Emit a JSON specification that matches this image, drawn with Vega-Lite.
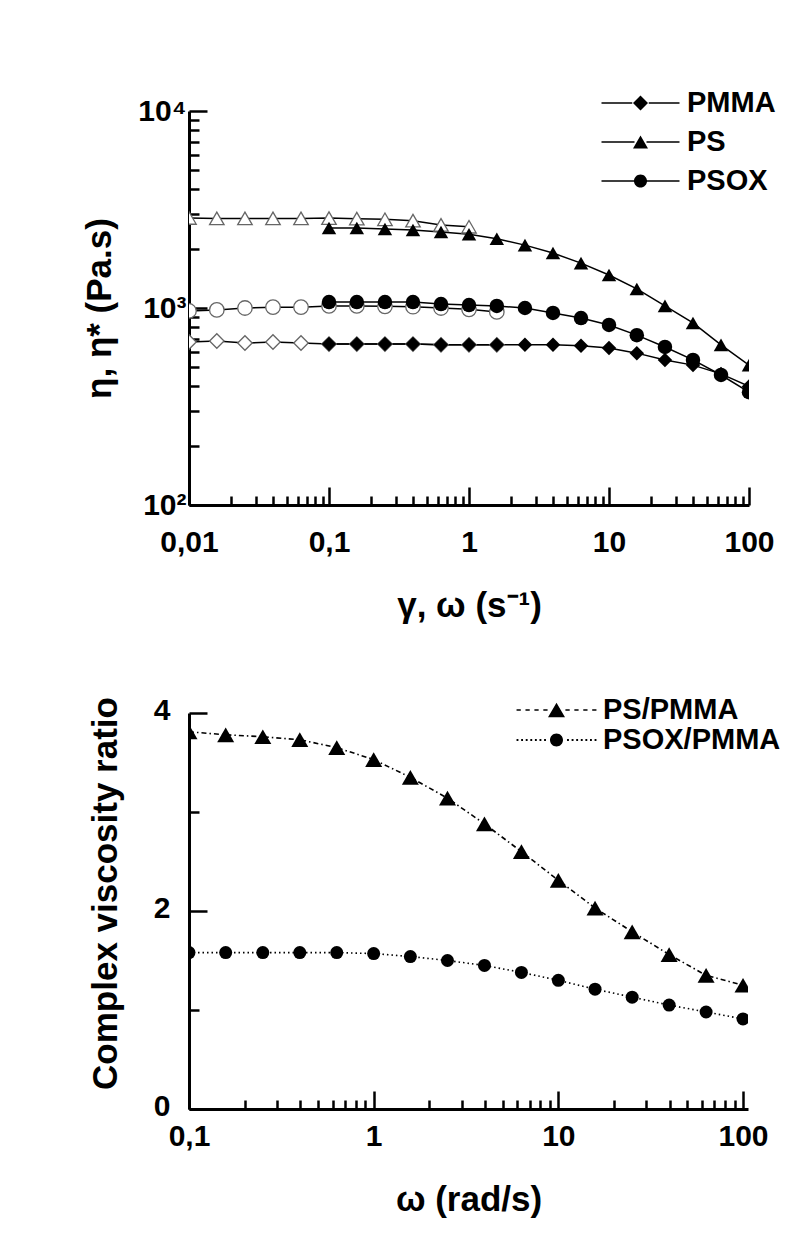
{
  "$schema": "https://vega.github.io/schema/vega-lite/v6.json",
  "background": "white",
  "padding": {"left": 82, "top": 88, "right": 10, "bottom": 10},
  "spacing": 72,
  "config": {
    "view": {"stroke": null},
    "font": "Liberation Sans",
    "axis": {
      "grid": false,
      "domainColor": "black",
      "domainWidth": 3,
      "tickColor": "black",
      "tickWidth": 2.5,
      "labelFont": "Liberation Sans",
      "labelFontWeight": "bold",
      "labelFontSize": 30,
      "labelColor": "black",
      "labelOverlap": false,
      "labelFlush": false,
      "titleFont": "Liberation Sans",
      "titleFontWeight": "bold",
      "titleFontSize": 35,
      "titleColor": "black"
    },
    "legend": {
      "title": null,
      "padding": 0,
      "symbolOpacity": 1,
      "symbolFillColor": "black",
      "symbolStrokeColor": "black",
      "symbolStrokeWidth": 1,
      "labelFont": "Liberation Sans",
      "labelFontWeight": "bold",
      "labelFontSize": 29,
      "labelColor": "black",
      "labelLimit": 300
    }
  },
  "datasets": {
    "rheology": [
      {"mat": "PMMA", "mode": "steady", "rate": 0.01, "eta": 672},
      {"mat": "PMMA", "mode": "steady", "rate": 0.0158, "eta": 680},
      {"mat": "PMMA", "mode": "steady", "rate": 0.0251, "eta": 664},
      {"mat": "PMMA", "mode": "steady", "rate": 0.0398, "eta": 672},
      {"mat": "PMMA", "mode": "steady", "rate": 0.0631, "eta": 664},
      {"mat": "PMMA", "mode": "steady", "rate": 0.1, "eta": 656},
      {"mat": "PMMA", "mode": "steady", "rate": 0.158, "eta": 656},
      {"mat": "PMMA", "mode": "steady", "rate": 0.251, "eta": 656},
      {"mat": "PMMA", "mode": "steady", "rate": 0.398, "eta": 656},
      {"mat": "PMMA", "mode": "steady", "rate": 0.631, "eta": 650},
      {"mat": "PMMA", "mode": "steady", "rate": 1, "eta": 650},
      {"mat": "PMMA", "mode": "steady", "rate": 1.58, "eta": 650},
      {"mat": "PS", "mode": "steady", "rate": 0.01, "eta": 2864},
      {"mat": "PS", "mode": "steady", "rate": 0.0158, "eta": 2850},
      {"mat": "PS", "mode": "steady", "rate": 0.0251, "eta": 2850},
      {"mat": "PS", "mode": "steady", "rate": 0.0398, "eta": 2850},
      {"mat": "PS", "mode": "steady", "rate": 0.0631, "eta": 2850},
      {"mat": "PS", "mode": "steady", "rate": 0.1, "eta": 2860},
      {"mat": "PS", "mode": "steady", "rate": 0.158, "eta": 2840},
      {"mat": "PS", "mode": "steady", "rate": 0.251, "eta": 2820},
      {"mat": "PS", "mode": "steady", "rate": 0.398, "eta": 2775},
      {"mat": "PS", "mode": "steady", "rate": 0.631, "eta": 2640},
      {"mat": "PS", "mode": "steady", "rate": 1, "eta": 2585},
      {"mat": "PSOX", "mode": "steady", "rate": 0.01, "eta": 966},
      {"mat": "PSOX", "mode": "steady", "rate": 0.0158, "eta": 978},
      {"mat": "PSOX", "mode": "steady", "rate": 0.0251, "eta": 1000},
      {"mat": "PSOX", "mode": "steady", "rate": 0.0398, "eta": 1010},
      {"mat": "PSOX", "mode": "steady", "rate": 0.0631, "eta": 1010},
      {"mat": "PSOX", "mode": "steady", "rate": 0.1, "eta": 1025},
      {"mat": "PSOX", "mode": "steady", "rate": 0.158, "eta": 1025},
      {"mat": "PSOX", "mode": "steady", "rate": 0.251, "eta": 1020},
      {"mat": "PSOX", "mode": "steady", "rate": 0.398, "eta": 1015},
      {"mat": "PSOX", "mode": "steady", "rate": 0.631, "eta": 1000},
      {"mat": "PSOX", "mode": "steady", "rate": 1, "eta": 985},
      {"mat": "PSOX", "mode": "steady", "rate": 1.58, "eta": 955},
      {"mat": "PMMA", "mode": "oscillatory", "rate": 0.1, "eta": 656},
      {"mat": "PMMA", "mode": "oscillatory", "rate": 0.158, "eta": 656},
      {"mat": "PMMA", "mode": "oscillatory", "rate": 0.251, "eta": 656},
      {"mat": "PMMA", "mode": "oscillatory", "rate": 0.398, "eta": 656},
      {"mat": "PMMA", "mode": "oscillatory", "rate": 0.631, "eta": 650},
      {"mat": "PMMA", "mode": "oscillatory", "rate": 1, "eta": 650},
      {"mat": "PMMA", "mode": "oscillatory", "rate": 1.58, "eta": 650},
      {"mat": "PMMA", "mode": "oscillatory", "rate": 2.51, "eta": 650},
      {"mat": "PMMA", "mode": "oscillatory", "rate": 3.98, "eta": 650},
      {"mat": "PMMA", "mode": "oscillatory", "rate": 6.31, "eta": 643},
      {"mat": "PMMA", "mode": "oscillatory", "rate": 10, "eta": 626},
      {"mat": "PMMA", "mode": "oscillatory", "rate": 15.8, "eta": 590},
      {"mat": "PMMA", "mode": "oscillatory", "rate": 25.1, "eta": 545},
      {"mat": "PMMA", "mode": "oscillatory", "rate": 39.8, "eta": 513},
      {"mat": "PMMA", "mode": "oscillatory", "rate": 63.1, "eta": 463},
      {"mat": "PMMA", "mode": "oscillatory", "rate": 100, "eta": 400},
      {"mat": "PS", "mode": "oscillatory", "rate": 0.1, "eta": 2547},
      {"mat": "PS", "mode": "oscillatory", "rate": 0.158, "eta": 2547},
      {"mat": "PS", "mode": "oscillatory", "rate": 0.251, "eta": 2520},
      {"mat": "PS", "mode": "oscillatory", "rate": 0.398, "eta": 2490},
      {"mat": "PS", "mode": "oscillatory", "rate": 0.631, "eta": 2430},
      {"mat": "PS", "mode": "oscillatory", "rate": 1, "eta": 2370},
      {"mat": "PS", "mode": "oscillatory", "rate": 1.58, "eta": 2245},
      {"mat": "PS", "mode": "oscillatory", "rate": 2.51, "eta": 2085},
      {"mat": "PS", "mode": "oscillatory", "rate": 3.98, "eta": 1900},
      {"mat": "PS", "mode": "oscillatory", "rate": 6.31, "eta": 1690},
      {"mat": "PS", "mode": "oscillatory", "rate": 10, "eta": 1470},
      {"mat": "PS", "mode": "oscillatory", "rate": 15.8, "eta": 1250},
      {"mat": "PS", "mode": "oscillatory", "rate": 25.1, "eta": 1025},
      {"mat": "PS", "mode": "oscillatory", "rate": 39.8, "eta": 840},
      {"mat": "PS", "mode": "oscillatory", "rate": 63.1, "eta": 650},
      {"mat": "PS", "mode": "oscillatory", "rate": 100, "eta": 513},
      {"mat": "PSOX", "mode": "oscillatory", "rate": 0.1, "eta": 1072},
      {"mat": "PSOX", "mode": "oscillatory", "rate": 0.158, "eta": 1072},
      {"mat": "PSOX", "mode": "oscillatory", "rate": 0.251, "eta": 1072},
      {"mat": "PSOX", "mode": "oscillatory", "rate": 0.398, "eta": 1072},
      {"mat": "PSOX", "mode": "oscillatory", "rate": 0.631, "eta": 1047},
      {"mat": "PSOX", "mode": "oscillatory", "rate": 1, "eta": 1035},
      {"mat": "PSOX", "mode": "oscillatory", "rate": 1.58, "eta": 1025},
      {"mat": "PSOX", "mode": "oscillatory", "rate": 2.51, "eta": 1000},
      {"mat": "PSOX", "mode": "oscillatory", "rate": 3.98, "eta": 944},
      {"mat": "PSOX", "mode": "oscillatory", "rate": 6.31, "eta": 889},
      {"mat": "PSOX", "mode": "oscillatory", "rate": 10, "eta": 820},
      {"mat": "PSOX", "mode": "oscillatory", "rate": 15.8, "eta": 728},
      {"mat": "PSOX", "mode": "oscillatory", "rate": 25.1, "eta": 634},
      {"mat": "PSOX", "mode": "oscillatory", "rate": 39.8, "eta": 545},
      {"mat": "PSOX", "mode": "oscillatory", "rate": 63.1, "eta": 457},
      {"mat": "PSOX", "mode": "oscillatory", "rate": 100, "eta": 374}
    ],
    "ratio": [
      {"pair": "PS/PMMA", "omega": 0.1, "ratio": 3.81},
      {"pair": "PS/PMMA", "omega": 0.158, "ratio": 3.78},
      {"pair": "PS/PMMA", "omega": 0.251, "ratio": 3.76},
      {"pair": "PS/PMMA", "omega": 0.398, "ratio": 3.73},
      {"pair": "PS/PMMA", "omega": 0.631, "ratio": 3.65},
      {"pair": "PS/PMMA", "omega": 1, "ratio": 3.53},
      {"pair": "PS/PMMA", "omega": 1.58, "ratio": 3.35},
      {"pair": "PS/PMMA", "omega": 2.51, "ratio": 3.14},
      {"pair": "PS/PMMA", "omega": 3.98, "ratio": 2.88},
      {"pair": "PS/PMMA", "omega": 6.31, "ratio": 2.6},
      {"pair": "PS/PMMA", "omega": 10, "ratio": 2.31},
      {"pair": "PS/PMMA", "omega": 15.8, "ratio": 2.03},
      {"pair": "PS/PMMA", "omega": 25.1, "ratio": 1.79},
      {"pair": "PS/PMMA", "omega": 39.8, "ratio": 1.56},
      {"pair": "PS/PMMA", "omega": 63.1, "ratio": 1.35},
      {"pair": "PS/PMMA", "omega": 100, "ratio": 1.25},
      {"pair": "PSOX/PMMA", "omega": 0.1, "ratio": 1.58},
      {"pair": "PSOX/PMMA", "omega": 0.158, "ratio": 1.58},
      {"pair": "PSOX/PMMA", "omega": 0.251, "ratio": 1.58},
      {"pair": "PSOX/PMMA", "omega": 0.398, "ratio": 1.58},
      {"pair": "PSOX/PMMA", "omega": 0.631, "ratio": 1.58},
      {"pair": "PSOX/PMMA", "omega": 1, "ratio": 1.57},
      {"pair": "PSOX/PMMA", "omega": 1.58, "ratio": 1.54},
      {"pair": "PSOX/PMMA", "omega": 2.51, "ratio": 1.5},
      {"pair": "PSOX/PMMA", "omega": 3.98, "ratio": 1.45},
      {"pair": "PSOX/PMMA", "omega": 6.31, "ratio": 1.38},
      {"pair": "PSOX/PMMA", "omega": 10, "ratio": 1.3},
      {"pair": "PSOX/PMMA", "omega": 15.8, "ratio": 1.21},
      {"pair": "PSOX/PMMA", "omega": 25.1, "ratio": 1.13},
      {"pair": "PSOX/PMMA", "omega": 39.8, "ratio": 1.05},
      {"pair": "PSOX/PMMA", "omega": 63.1, "ratio": 0.98},
      {"pair": "PSOX/PMMA", "omega": 100, "ratio": 0.91}
    ]
  },
  "vconcat": [
    {
      "width": 560,
      "height": 394,
      "data": {"name": "rheology"},
      "encoding": {
        "x": {
          "field": "rate",
          "type": "quantitative",
          "scale": {"type": "log", "domain": [0.01, 100], "nice": false},
          "axis": {
            "title": "γ, ω (s⁻¹)",
            "values": [0.01, 0.02, 0.03, 0.04, 0.05, 0.06, 0.07, 0.08, 0.09, 0.1, 0.2, 0.3, 0.4, 0.5, 0.6, 0.7, 0.8, 0.9, 1, 2, 3, 4, 5, 6, 7, 8, 9, 10, 20, 30, 40, 50, 60, 70, 80, 90, 100],
            "labelExpr": "datum.value == 0.01 ? '0,01' : datum.value == 0.1 ? '0,1' : indexof([1, 10, 100], datum.value) >= 0 ? datum.label : ''",
            "tickSize": {"condition": {"test": "indexof([0.01, 0.1, 1, 10, 100], datum.value) >= 0", "value": -18}, "value": -9},
            "labelPadding": 40,
            "titlePadding": 22
          }
        },
        "y": {
          "field": "eta",
          "type": "quantitative",
          "scale": {"type": "log", "domain": [100, 10000], "nice": false},
          "axis": {
            "title": "η, η* (Pa.s)",
            "values": [100, 200, 300, 400, 500, 600, 700, 800, 900, 1000, 2000, 3000, 4000, 5000, 6000, 7000, 8000, 9000, 10000],
            "labelExpr": "datum.value == 100 ? '10²' : datum.value == 1000 ? '10³' : datum.value == 10000 ? '10⁴' : ''",
            "tickSize": {"condition": {"test": "indexof([100, 1000, 10000], datum.value) >= 0", "value": -18}, "value": -10},
            "labelPadding": 21,
            "titlePadding": 20
          }
        }
      },
      "layer": [
        {
          "mark": {"type": "line", "color": "black", "strokeWidth": 1.5, "clip": true},
          "encoding": {"detail": [{"field": "mat"}, {"field": "mode"}]}
        },
        {
          "transform": [{"filter": "datum.mode == 'steady'"}],
          "mark": {"type": "point", "filled": true, "fill": "white", "stroke": "#666", "strokeWidth": 1.3, "size": 210, "clip": true, "opacity": 1},
          "encoding": {
            "shape": {"field": "mat", "type": "nominal", "scale": {"domain": ["PMMA", "PS", "PSOX"], "range": ["diamond", "triangle-up", "circle"]}, "legend": null}
          }
        },
        {
          "transform": [{"filter": "datum.mode == 'oscillatory'"}],
          "mark": {"type": "point", "filled": true, "color": "black", "size": 210, "clip": true, "opacity": 1},
          "encoding": {
            "shape": {"field": "mat", "type": "nominal", "scale": {"domain": ["PMMA", "PS", "PSOX"], "range": ["diamond", "triangle-up", "circle"]}, "legend": null}
          }
        },
        {
          "transform": [{"filter": "datum.mode == 'oscillatory'"}],
          "mark": {"type": "point", "filled": true, "color": "black", "size": 225, "opacity": 0},
          "encoding": {
            "shape": {
              "field": "mat",
              "type": "nominal",
              "scale": {
                "domain": ["PMMA", "PS", "PSOX"],
                "range": [
                  "M-5.2,-0.1L-1.1,-0.1L-1.1,0.1L-5.2,0.1ZM1.1,-0.1L5.2,-0.1L5.2,0.1L1.1,0.1ZM-1,0L0,-1L1,0L0,1Z",
                  "M-5.2,-0.1L-0.8,-0.1L-0.8,0.1L-5.2,0.1ZM0.8,-0.1L5.2,-0.1L5.2,0.1L0.8,0.1ZM0,-0.866L1,0.866L-1,0.866Z",
                  "M-5.2,-0.1L-0.8,-0.1L-0.8,0.1L-5.2,0.1ZM0.8,-0.1L5.2,-0.1L5.2,0.1L0.8,0.1ZM0.87,0A0.87,0.87,0,1,1,-0.87,0A0.87,0.87,0,1,1,0.87,0Z"
                ]
              },
              "legend": {
                "orient": "none",
                "legendX": 437,
                "legendY": -22.5,
                "symbolSize": 225,
                "labelOffset": 32,
                "rowPadding": 9
              }
            }
          }
        },
        {
          "data": {"values": [{}]},
          "mark": {"type": "text", "font": "Liberation Sans", "fontSize": 26, "fontWeight": "bold", "color": "black"},
          "encoding": {"x": {"datum": 0.0264}, "y": {"datum": 186}, "text": {"value": "(a)"}}
        }
      ],
      "resolve": {"scale": {"shape": "independent"}}
    },
    {
      "width": 559,
      "height": 396,
      "data": {"name": "ratio"},
      "encoding": {
        "x": {
          "field": "omega",
          "type": "quantitative",
          "scale": {"type": "log", "domain": [0.1, 106.4], "nice": false},
          "axis": {
            "title": "ω (rad/s)",
            "values": [0.1, 0.2, 0.3, 0.4, 0.5, 0.6, 0.7, 0.8, 0.9, 1, 2, 3, 4, 5, 6, 7, 8, 9, 10, 20, 30, 40, 50, 60, 70, 80, 90, 100],
            "labelExpr": "datum.value == 0.1 ? '0,1' : indexof([1, 10, 100], datum.value) >= 0 ? datum.label : ''",
            "tickSize": {"condition": {"test": "indexof([0.1, 1, 10, 100], datum.value) >= 0", "value": -18}, "value": -9},
            "labelPadding": 30,
            "titlePadding": 22
          }
        },
        "y": {
          "field": "ratio",
          "type": "quantitative",
          "scale": {"domain": [0, 4], "nice": false},
          "axis": {
            "title": "Complex viscosity ratio",
            "titleY": 180,
            "values": [0, 1, 2, 3, 4],
            "labelExpr": "datum.value % 2 == 0 ? datum.label : ''",
            "tickSize": {"condition": {"test": "datum.value % 2 == 0", "value": -18}, "value": -10},
            "labelPadding": 37,
            "labelOffset": -3,
            "titlePadding": 30
          }
        }
      },
      "layer": [
        {
          "mark": {"type": "line", "color": "black", "strokeWidth": 1.6, "clip": true},
          "encoding": {
            "detail": {"field": "pair"},
            "strokeDash": {"field": "pair", "type": "nominal", "scale": {"domain": ["PS/PMMA", "PSOX/PMMA"], "range": [[5, 3, 1.5, 3], [1.5, 3]]}, "legend": null}
          }
        },
        {
          "transform": [{"filter": "datum.pair == 'PS/PMMA'"}],
          "mark": {"type": "point", "shape": "triangle-up", "filled": true, "color": "black", "size": 289, "clip": true, "opacity": 1},
          "encoding": {}
        },
        {
          "transform": [{"filter": "datum.pair == 'PSOX/PMMA'"}],
          "mark": {"type": "point", "shape": "circle", "filled": true, "color": "black", "size": 169, "clip": true, "opacity": 1},
          "encoding": {}
        },
        {
          "mark": {"type": "point", "filled": true, "color": "black", "size": 289, "opacity": 0},
          "encoding": {
            "shape": {
              "field": "pair",
              "type": "nominal",
              "scale": {
                "domain": ["PS/PMMA", "PSOX/PMMA"],
                "range": [
                  "M-4.7,-0.1L-4.2,-0.1L-4.2,0.1L-4.7,0.1ZM-3.65,-0.1L-3.15,-0.1L-3.15,0.1L-3.65,0.1ZM-2.6,-0.1L-2.1,-0.1L-2.1,0.1L-2.6,0.1ZM-1.55,-0.1L-1.05,-0.1L-1.05,0.1L-1.55,0.1ZM1.05,-0.1L1.55,-0.1L1.55,0.1L1.05,0.1ZM2.1,-0.1L2.6,-0.1L2.6,0.1L2.1,0.1ZM3.15,-0.1L3.65,-0.1L3.65,0.1L3.15,0.1ZM4.2,-0.1L4.7,-0.1L4.7,0.1L4.2,0.1ZM0,-0.866L1,0.866L-1,0.866Z",
                  "M-4.7,-0.11L-4.48,-0.11L-4.48,0.11L-4.7,0.11ZM-4.16,-0.11L-3.94,-0.11L-3.94,0.11L-4.16,0.11ZM-3.62,-0.11L-3.4,-0.11L-3.4,0.11L-3.62,0.11ZM-3.08,-0.11L-2.86,-0.11L-2.86,0.11L-3.08,0.11ZM-2.54,-0.11L-2.32,-0.11L-2.32,0.11L-2.54,0.11ZM-2,-0.11L-1.78,-0.11L-1.78,0.11L-2,0.11ZM-1.46,-0.11L-1.24,-0.11L-1.24,0.11L-1.46,0.11ZM1.24,-0.11L1.46,-0.11L1.46,0.11L1.24,0.11ZM1.78,-0.11L2,-0.11L2,0.11L1.78,0.11ZM2.32,-0.11L2.54,-0.11L2.54,0.11L2.32,0.11ZM2.86,-0.11L3.08,-0.11L3.08,0.11L2.86,0.11ZM3.4,-0.11L3.62,-0.11L3.62,0.11L3.4,0.11ZM3.94,-0.11L4.16,-0.11L4.16,0.11L3.94,0.11ZM4.48,-0.11L4.7,-0.11L4.7,0.11L4.48,0.11ZM0.765,0A0.765,0.765,0,1,1,-0.765,0A0.765,0.765,0,1,1,0.765,0Z"
                ]
              },
              "legend": {
                "orient": "none",
                "legendX": 353,
                "legendY": -17.5,
                "symbolSize": 289,
                "labelOffset": 32,
                "rowPadding": 0
              }
            }
          }
        },
        {
          "data": {"values": [{}]},
          "mark": {"type": "text", "font": "Liberation Sans", "fontSize": 26, "fontWeight": "bold", "color": "black"},
          "encoding": {"x": {"datum": 0.214}, "y": {"datum": 0.495}, "text": {"value": "(b)"}}
        }
      ],
      "resolve": {"scale": {"shape": "independent"}}
    }
  ]
}
